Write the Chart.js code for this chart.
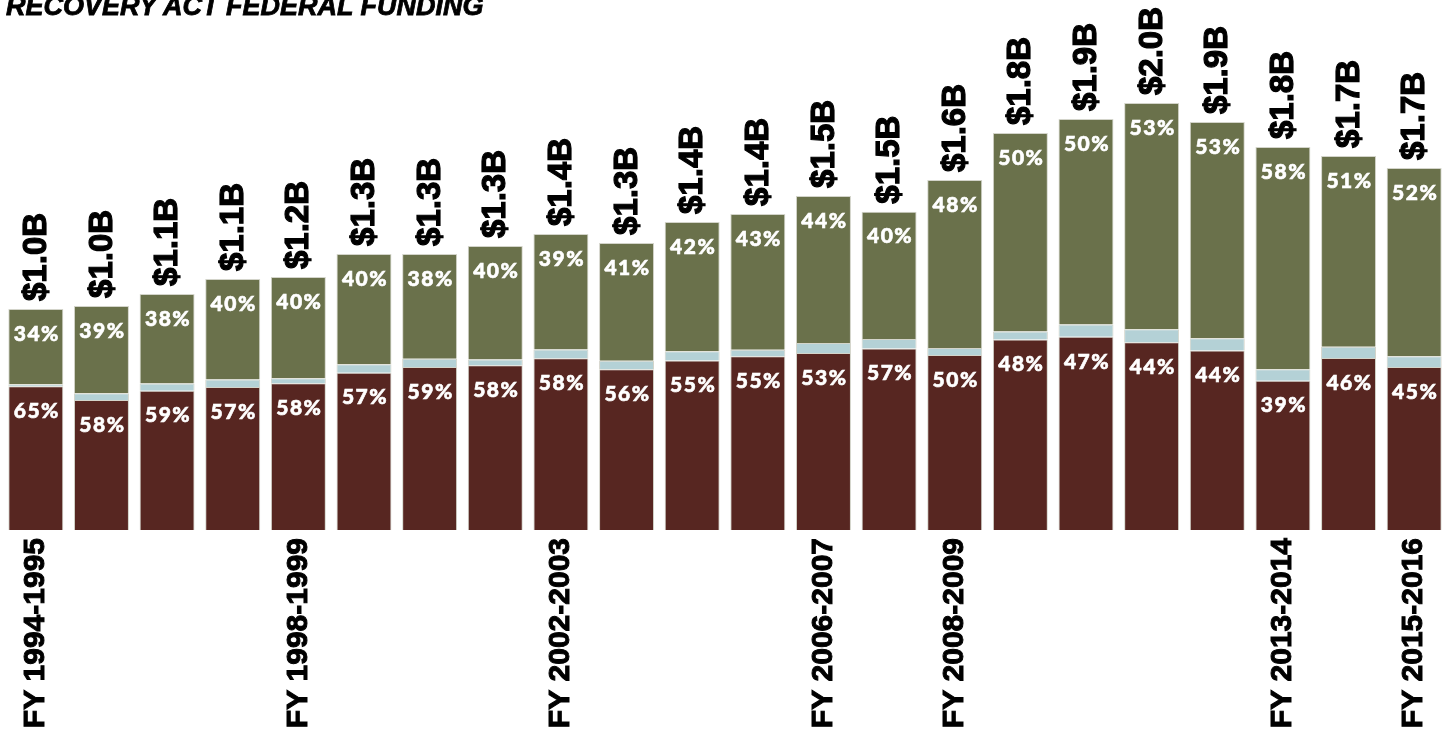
<!DOCTYPE html>
<html>
<head>
<meta charset="utf-8">
<script src="https://cdn.jsdelivr.net/npm/chart.js@4.4.1/dist/chart.umd.min.js"></script>
<style>
  html, body { margin: 0; padding: 0; background: #ffffff; overflow: hidden; }
  #wrap { position: relative; width: 1448px; height: 734px; }
  #title {
    position: absolute; left: 6px; top: -7px; z-index: 2;
    font: italic bold 27px 'Liberation Sans', Arial, sans-serif;
    line-height: 27px; color: #000; white-space: nowrap;
    -webkit-text-stroke: 0.8px #000;
  }
  canvas { position: absolute; left: 0; top: 0; }
</style>
</head>
<body>
<div id="wrap">
  <div id="title">RECOVERY ACT FEDERAL FUNDING</div>
  <canvas id="chart" width="1448" height="734"></canvas>
</div>
<script>
// --- Data ---
const years = [
  'FY 1994-1995', 'FY 1995-1996', 'FY 1996-1997', 'FY 1997-1998', 'FY 1998-1999',
  'FY 1999-2000', 'FY 2000-2001', 'FY 2001-2002', 'FY 2002-2003', 'FY 2003-2004',
  'FY 2004-2005', 'FY 2005-2006', 'FY 2006-2007', 'FY 2007-2008', 'FY 2008-2009',
  'FY 2009-2010', 'FY 2010-2011', 'FY 2011-2012', 'FY 2012-2013', 'FY 2013-2014',
  'FY 2014-2015', 'FY 2015-2016'
];

// only these year labels are printed under the bars
const shownYears = ['FY 1994-1995', 'FY 1998-1999', 'FY 2002-2003', 'FY 2006-2007',
  'FY 2008-2009', 'FY 2013-2014', 'FY 2015-2016'];

// total funding, $ billions
const totals = [1.011, 1.025, 1.080, 1.148, 1.157, 1.263, 1.263, 1.299, 1.354, 1.313, 1.409,
  1.446, 1.528, 1.456, 1.601, 1.816, 1.880, 1.953, 1.866, 1.752, 1.711, 1.656];

// share of each total, percent
const bottomPct = [65, 58, 59, 57, 58, 57, 59, 58, 58, 56, 55, 55, 53, 57, 50, 48, 47, 44, 44, 39, 46, 45];
const middlePct = [1, 3, 3, 3, 2, 3, 3, 2, 3, 3, 3, 2, 3, 3, 2, 2, 3, 3, 3, 3, 3, 3];
const topPct = [34, 39, 38, 40, 40, 40, 38, 40, 39, 41, 42, 43, 44, 40, 48, 50, 50, 53, 53, 58, 51, 52];

// --- Helpers ---
const toAmount = (pcts) => pcts.map((p, i) => totals[i] * p / 100);
const money = (v) => '$' + v.toFixed(1) + 'B';

// --- Label drawing plugin (percent inside segments, totals above bars) ---
const barLabels = {
  id: 'barLabels',
  afterDatasetsDraw(chart) {
    const ctx = chart.ctx;
    const bottomBars = chart.getDatasetMeta(0).data;
    const topBars = chart.getDatasetMeta(2).data;

    ctx.save();
    ctx.fillStyle = '#ffffff';
    ctx.strokeStyle = '#ffffff';
    ctx.lineWidth = 0.6;
    ctx.font = "900 21px Lato, 'Open Sans', sans-serif";
    ctx.letterSpacing = '1.5px';
    ctx.textAlign = 'center';
    ctx.textBaseline = 'middle';
    const pctLabel = (txt, x, y) => {
      ctx.fillText(txt, x, y);
      ctx.strokeText(txt, x, y);
    };
    bottomBars.forEach((bar, i) => pctLabel(bottomPct[i] + '%', bar.x + 1, bar.y + 25));
    topBars.forEach((bar, i) => pctLabel(topPct[i] + '%', bar.x + 1, bar.y + 25));

    // totals, rotated to read upward
    ctx.fillStyle = '#000000';
    ctx.strokeStyle = '#000000';
    ctx.lineWidth = 1.2;
    ctx.font = "bold 33px 'Liberation Sans', Arial, sans-serif";
    ctx.letterSpacing = '0px';
    ctx.textAlign = 'left';
    topBars.forEach((bar, i) => {
      ctx.save();
      ctx.translate(bar.x + 1, bar.y - 8);
      ctx.rotate(-Math.PI / 2);
      ctx.fillText(money(totals[i]), 0, 0);
      ctx.strokeText(money(totals[i]), 0, 0);
      ctx.restore();
    });
    ctx.restore();
  }
};

const segBorder = '#d3d4ca';

new Chart(document.getElementById('chart'), {
  type: 'bar',
  data: {
    labels: years,
    datasets: [
      { label: 'Bottom share', data: toAmount(bottomPct), backgroundColor: '#572621', borderColor: segBorder, borderWidth: 1 },
      { label: 'Middle share', data: toAmount(middlePct), backgroundColor: '#b4d1d6', borderColor: segBorder, borderWidth: 1 },
      { label: 'Top share', data: toAmount(topPct), backgroundColor: '#6a714b', borderColor: segBorder, borderWidth: 1 }
    ]
  },
  options: {
    responsive: false,
    animation: false,
    layout: { padding: { left: 3, right: 1, top: 0, bottom: 0 } },
    datasets: { bar: { categoryPercentage: 1, barPercentage: 0.8375 } },
    plugins: { legend: { display: false }, tooltip: { enabled: false } },
    scales: {
      x: {
        stacked: true,
        grid: { display: false, drawTicks: false },
        border: { display: false },
        afterFit: (scale) => {
          scale.height = 204;
          scale.paddingLeft = 0;
          scale.paddingRight = 0;
        },
        ticks: {
          autoSkip: false,
          minRotation: 90,
          maxRotation: 90,
          padding: 8,
          color: '#000000',
          textStrokeColor: '#000000',
          textStrokeWidth: 1,
          font: { family: "'Liberation Sans', Arial, sans-serif", size: 30, weight: 'bold' },
          callback: function (value) {
            const name = this.getLabelForValue(value);
            return shownYears.includes(name) ? name : '';
          }
        }
      },
      y: {
        stacked: true,
        display: false,
        min: 0,
        max: 2.4245
      }
    }
  },
  plugins: [barLabels]
});
</script>
</body>
</html>
